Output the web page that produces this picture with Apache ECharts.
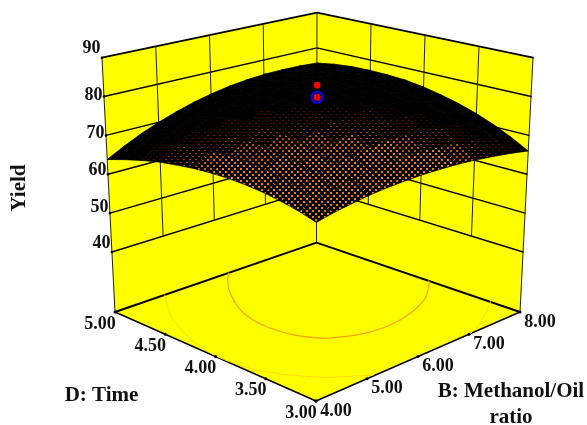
<!DOCTYPE html>
<html><head><meta charset="utf-8">
<style>html,body{margin:0;padding:0;background:#fff}#c{width:587px;height:425px}</style>
<script src="https://cdn.jsdelivr.net/npm/echarts@6/dist/echarts.min.js"></script>
</head><body><div id="c"></div>
<script>
// ---- data ----
const timeTicks = [3, 3.5, 4, 4.5, 5];
const ratioTicks = [4, 5, 6, 7, 8];
const yieldTicks = [40, 50, 60, 70, 80, 90];
// surface yields: rows run Time 3.00 -> 5.00 (13 rows), columns Methanol/Oil 4.00 -> 8.00 (13 columns)
const yieldGrid = [
 [66.0,66.9,67.6,68.2,68.6,68.8,68.9,68.8,68.6,68.2,67.6,66.9,66.0],
 [67.2,68.6,69.8,70.8,71.5,72.0,72.2,72.2,71.9,71.4,70.6,69.6,68.4],
 [68.1,70.0,71.7,73.0,74.0,74.6,75.0,75.0,74.7,74.2,73.2,72.0,70.5],
 [68.8,71.1,73.1,74.7,75.9,76.8,77.2,77.3,77.1,76.4,75.4,74.1,72.3],
 [69.2,71.9,74.1,76.0,77.4,78.4,79.0,79.2,78.9,78.3,77.2,75.7,73.8],
 [69.4,72.3,74.7,76.8,78.3,79.5,80.2,80.4,80.2,79.6,78.5,77.0,75.0],
 [69.3,72.4,75.0,77.1,78.8,80.1,80.9,81.2,81.1,80.5,79.5,78.0,76.0],
 [69.0,72.1,74.8,77.1,78.9,80.2,81.0,81.5,81.4,80.9,79.9,78.5,76.7],
 [68.4,71.6,74.3,76.6,78.4,79.8,80.7,81.2,81.3,80.9,80.0,78.8,77.0],
 [67.7,70.7,73.4,75.6,77.4,78.8,79.8,80.4,80.6,80.4,79.7,78.6,77.1],
 [66.6,69.5,72.0,74.2,76.0,77.4,78.5,79.1,79.4,79.4,78.9,78.1,77.0],
 [65.3,68.0,70.3,72.3,74.1,75.5,76.5,77.3,77.8,77.9,77.8,77.3,76.5],
 [63.8,66.1,68.2,70.0,71.6,73.0,74.1,75.0,75.6,76.0,76.1,76.0,75.7]
];
// floor contours as [ratio, time]
const contourInner = [[6.25,5.00],[5.80,4.77],[5.36,4.41],[5.25,4.12],[5.32,3.89],[5.48,3.74],[5.61,3.67],[6.09,3.55],[6.72,3.54],[7.45,3.67],[7.96,3.87],[8.00,3.90]];
const contourOuterLeft = [[4.99,5.00],[4.44,4.64],[4.07,4.18],[4.03,3.84],[4.17,3.57],[4.55,3.27],[4.71,3.19],[5.14,3.01]];
const contourOuterRight = [[7.02,3.00],[7.38,3.08],[7.98,3.28],[8.00,3.29]];
// design point [ratio, time, observed yield, predicted yield]
const designPoint = [6, 4, 84, 80.9];

// ---- view layout ----
const floorCorners = {f:[316,401], r:[520,312], l:[115,312], b:[316.5,242.7]};
const topCorners   = {f:[316.5,119], r:[533,57.7], l:[102,57.7], b:[317,12.7]};
const zBase = 0.236, zStep = 0.01528;
const FONT = 'bold 18px "Liberation Serif"';
const TITLE_FONT = 'bold 21px "Liberation Serif"';
const yLabelLift = {40:-9, 50:-6, 60:-4, 70:-2, 80:-1, 90:-9};

function bil(c, u, v, k){
  return (1-u)*(1-v)*c.f[k] + u*(1-v)*c.r[k] + (1-u)*v*c.l[k] + u*v*c.b[k];
}
function uOf(r){return (r-4)/4;}
function vOf(t){return (t-3)/2;}
function hOf(z){return zBase+(z-40)*zStep;}
function proj(u,v,w){
  const fx=bil(floorCorners,u,v,0), fy=bil(floorCorners,u,v,1);
  const tx=bil(topCorners,u,v,0),  ty=bil(topCorners,u,v,1);
  return [fx+(tx-fx)*w, fy+(ty-fy)*w];
}
function line(api,pts,stroke,lw,smooth){
  return {type:'polyline',silent:true,shape:{points:pts.map(p=>api.coord(p)),smooth:smooth||0},
          style:{stroke:stroke,lineWidth:lw,fill:null,lineCap:'round',lineJoin:'round'}};
}
function poly(api,pts,fill){
  return {type:'polygon',silent:true,shape:{points:pts.map(p=>api.coord(p))},style:{fill:fill,stroke:fill,lineWidth:0.5}};
}
function label(api,p,text,rot,font){
  const c=api.coord(p);
  return {type:'text',silent:true,x:c[0],y:c[1],rotation:rot||0,
    style:{text:text,x:0,y:0,textAlign:'center',textVerticalAlign:'middle',font:font||FONT,fill:'#111'}};
}
function dot(api,p,r,fill,stroke,lw){
  const c=api.coord(p);
  return {type:'circle',silent:true,shape:{cx:c[0],cy:c[1],r:r},style:{fill:fill,stroke:stroke||null,lineWidth:lw||0}};
}

// mesh-showing fills: black with amber dots, stronger where the mesh opens up
const LEVELS = 16;
const meshFills = [];
for(let i=0;i<LEVELS;i++){
  const cv=document.createElement('canvas'); cv.width=6; cv.height=6;
  const g=cv.getContext('2d'); g.fillStyle='#000'; g.fillRect(0,0,6,6);
  const f=i/(LEVELS-1);
  g.fillStyle='rgb('+Math.round(235*f)+','+Math.round(125*f*f)+','+Math.round(10*f*f)+')';
  g.fillRect(0,0,2,1); g.fillRect(3,3,2,1);
  if(f>0.75){ g.fillRect(0,1,2,1); g.fillRect(3,4,2,1); }
  meshFills.push({image:cv,repeat:'repeat'});
}

function renderFrame(params,api){
  const ch=[];
  const W=(a,b,w)=>proj(a,b,w);
  ch.push(poly(api,[W(0,1,0),W(1,1,0),W(1,1,1),W(0,1,1)],'#ffff00'));
  ch.push(poly(api,[W(1,1,0),W(1,0,0),W(1,0,1),W(1,1,1)],'#ffff00'));
  ch.push(poly(api,[W(0,0,0),W(1,0,0),W(1,1,0),W(0,1,0)],'#ffff00'));
  const w40=hOf(40);
  yieldTicks.forEach(z=>{
    const w=hOf(z), lw=z===90?1.7:1.4;
    ch.push(line(api,[W(0,1,w),W(1,1,w),W(1,0,w)],'#000',lw));
  });
  ratioTicks.slice(1,-1).forEach(r=>{const u=uOf(r); ch.push(line(api,[W(u,1,w40),W(u,1,1)],'#222',1));});
  timeTicks.slice(1,-1).forEach(t=>{const v=vOf(t); ch.push(line(api,[W(1,v,w40),W(1,v,1)],'#222',1));});
  ch.push(line(api,[W(1,1,0),W(1,1,1)],'#222',1));
  ch.push(line(api,[W(0,1,0),W(0,1,1)],'#222',1));
  ch.push(line(api,[W(1,0,0),W(1,0,1)],'#222',1));
  ch.push(line(api,[W(0,1,0),W(1,1,0),W(1,0,0)],'#000',1.9));
  ch.push(line(api,[W(0,1,0),W(0,0,0),W(1,0,0)],'#000',1.4));
  return {type:'group',children:ch};
}
function renderContours(params,api){
  const to=a=>a.map(p=>proj(uOf(p[0]),vOf(p[1]),0));
  return {type:'group',children:[
    line(api,to(contourInner),'#ffa000',1.2,0.35),
    line(api,to(contourOuterLeft),'#ffdc10',1,0.35),
    line(api,to(contourOuterRight),'#ffdc10',1,0.35)
  ]};
}
function renderCell(params,api){
  const i=api.value(2), j=api.value(3), n=yieldGrid.length-1;
  const P=(a,b)=>proj(a/n,b/n,hOf(yieldGrid[b][a]));
  const pts=[P(i,j),P(i+1,j),P(i+1,j+1),P(i,j+1)];
  let area=0;
  for(let k=0;k<4;k++){const a=pts[k],b=pts[(k+1)%4]; area+=a[0]*b[1]-b[0]*a[1];}
  area=Math.abs(area)/2;
  const f=Math.max(0,Math.min(1,(area-255)/150));
  const lvl=Math.round(Math.pow(f,1.2)*(LEVELS-1));
  return {type:'polygon',silent:true,shape:{points:pts.map(p=>api.coord(p))},
          style:{fill:meshFills[lvl],stroke:lvl===0?'#000':'rgba(0,0,0,0.85)',lineWidth:0.8}};
}
function renderDesign(params,api){
  const u=uOf(designPoint[0]), v=vOf(designPoint[1]);
  const up=proj(u,v,hOf(designPoint[2])), on=proj(u,v,hOf(designPoint[3]));
  return {type:'group',children:[
    dot(api,up,3.4,'#ff0000'),
    dot(api,on,5.6,'#000','#0000ff',2),
    dot(api,on,3.6,'#ff0000'),
    line(api,[[on[0],on[1]-3.6],[on[0],on[1]+3.6]],'#400',0.7)
  ]};
}
function renderLabels(params,api){
  const ch=[];
  timeTicks.forEach(t=>{
    const p=proj(0,vOf(t),0);
    ch.push(dot(api,p,1.5,'#000'));
    ch.push(label(api,[p[0]-15,p[1]+12],t.toFixed(2)));
  });
  ratioTicks.forEach(r=>{
    const p=proj(uOf(r),0,0);
    ch.push(dot(api,p,1.5,'#000'));
    ch.push(label(api,[p[0]+20,p[1]+10],r.toFixed(2)));
  });
  yieldTicks.forEach(z=>{
    const p=proj(0,1,hOf(z));
    ch.push(dot(api,p,1.3,'#000'));
    ch.push(label(api,[p[0]-10.5,p[1]+yLabelLift[z]],String(z)));
  });
  ch.push(label(api,[20,188],'Yield',Math.PI/2,TITLE_FONT));
  ch.push(label(api,[101.5,396],'D: Time',0,TITLE_FONT));
  ch.push(label(api,[511,392],'B: Methanol/Oil',0,TITLE_FONT));
  ch.push(label(api,[511,418],'ratio',0,TITLE_FONT));
  return {type:'group',children:ch};
}

const cells=[];
for(let s=2*(yieldGrid.length-2);s>=0;s--){
  for(let j=0;j<yieldGrid.length-1;j++){
    const i=s-j;
    if(i>=0&&i<yieldGrid.length-1) cells.push([0,0,i,j]);
  }
}
const one=[[0,0,0,0]];
function custom(name,fn,data,z){
  return {type:'custom',name:name,coordinateSystem:'cartesian2d',renderItem:fn,data:data,clip:false,silent:true,z:z,
          encode:{x:0,y:1},animation:false};
}
const chart=echarts.init(document.getElementById('c'),null,{renderer:'canvas'});
chart.setOption({
  animation:false,
  backgroundColor:'#fff',
  tooltip:{show:false},
  grid:{left:0,right:0,top:0,bottom:0},
  xAxis:{type:'value',min:0,max:587,show:false},
  yAxis:{type:'value',min:0,max:425,inverse:true,show:false},
  series:[
    custom('Frame',renderFrame,one,1),
    custom('Contours',renderContours,one,2),
    custom('Yield surface',renderCell,cells,3),
    custom('Design point',renderDesign,one,4),
    custom('Labels',renderLabels,one,5)
  ]
});
</script></body></html>
